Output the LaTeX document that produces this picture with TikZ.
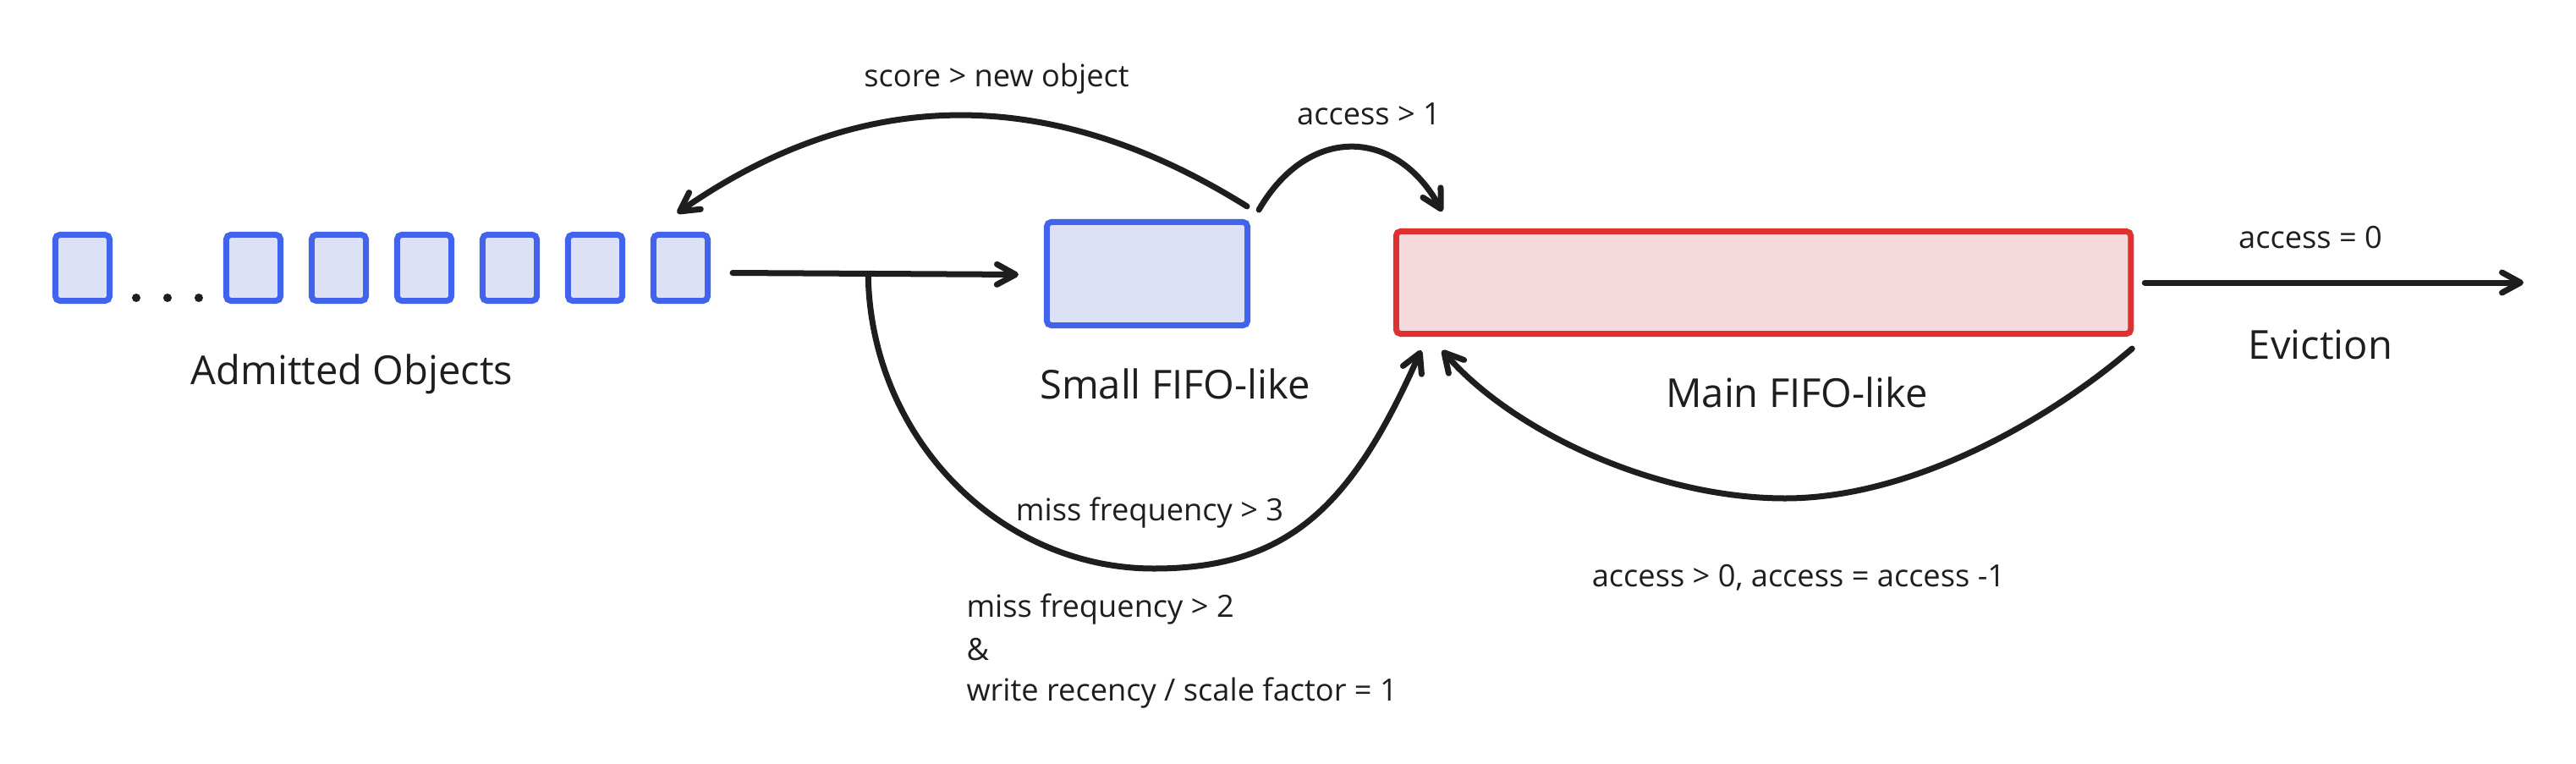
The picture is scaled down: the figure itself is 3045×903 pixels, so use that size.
\documentclass[tikz,border=0pt]{standalone}
\usepackage{fontspec}
\setmainfont{Open Sans}
\usetikzlibrary{arrows.meta}

\definecolor{objblue}{RGB}{66,99,235}
\definecolor{objfill}{RGB}{220,225,246}
\definecolor{mainred}{RGB}{224,49,49}
\definecolor{mainfill}{RGB}{245,218,220}
\definecolor{ink}{RGB}{30,30,30}

\begin{document}
\begin{tikzpicture}[x=0.01cm, y=-0.01cm, line width=0.07cm,
  obj/.style={draw=objblue, fill=objfill, minimum width=0.64cm, minimum height=0.78cm, inner sep=0pt, rounded corners=1.5pt},
  smallq/.style={obj, minimum width=2.37cm, minimum height=1.22cm},
  mainq/.style={draw=mainred, fill=mainfill, minimum width=8.68cm, minimum height=1.21cm, inner sep=0pt, rounded corners=1.5pt},
  arr/.style={draw=ink, line cap=round, -{Straight Barb[length=2.2mm, width=2.4mm, round]}},
  big/.style={text=ink, anchor=base, inner sep=0pt, font=\fontsize{13.4}{16}\selectfont},
  lbl/.style={text=ink, anchor=base, inner sep=0pt, font=\fontsize{10.3}{12}\selectfont}]

\path[use as bounding box] (0,0) rectangle (3045,903);

% admitted objects
\node[obj] (o0) at (97.5,316.5) {};
\foreach \i in {1,...,6}
  \node[obj] (o\i) at (198.5+101*\i,316.5) {};
\foreach \x in {161,198,235}
  \fill[ink] (\x,352) circle (0.05cm);
\node[big] (admitted) at (416,454) {Admitted Objects};

% the two queues
\node[smallq] (small) at (1356,323.5) {};
\node[big] (smalltxt) at (1389,471) {Small FIFO-like};
\node[mainq] (main) at (2084.5,334) {};
\node[big] (maintxt) at (2124,481) {Main FIFO-like};

\draw[arr] ([shift={(26,6)}]o6.east) -- coordinate[pos=0.474] (fork) ([shift={(-30,1)}]small.west);

% straight into main
\draw[arr] (fork) .. controls +(2,191) and +(-185,0) .. (1364,672)
  .. controls +(160,0) and +(-81,183) .. ([shift={(33,16)}]main.south west);
\node[lbl] (miss3) at (1359,615) {miss frequency > 3};
\node[lbl, anchor=base west] (miss2) at (1139,729) {miss frequency > 2};
\node[lbl, anchor=base west] (amp) at (1139,780) {\&};
\node[lbl, anchor=base west] (recency) at (1139,828) {write recency / scale factor = 1};

% reinsert in main
\draw[arr] ([shift={(-2,14)}]main.south east) .. controls +(-99,85) and +(150,0) .. (2110,589)
  .. controls +(-150,0) and +(85,98) .. ([shift={(58,16)}]main.south west);
\node[lbl] (decr) at (2126,693) {access > 0, access = access -1};

% back to the admitted objects
\draw[arr] ([shift={(-4,-15)}]small.north east) .. controls +(-232,-145) and +(218,-152) .. ([shift={(-4,-22)}]o6.north);
\node[lbl] (score) at (1178,102) {score > new object};

\draw[arr] ([shift={(10,-11)}]small.north east) .. controls +(58,-100) and +(-55,-100) .. ([shift={(58,-20)}]main.north west);
\node[lbl] (promote) at (1618,147) {access > 1};

% eviction
\coordinate (out) at (2983,334);
\draw[arr] ([xshift=0.13cm]main.east) -- (out);
\node[lbl] (zero) at (2731,293) {access = 0};
\node[big] (evicttxt) at (2743,424) {Eviction};

\end{tikzpicture}
\end{document}
